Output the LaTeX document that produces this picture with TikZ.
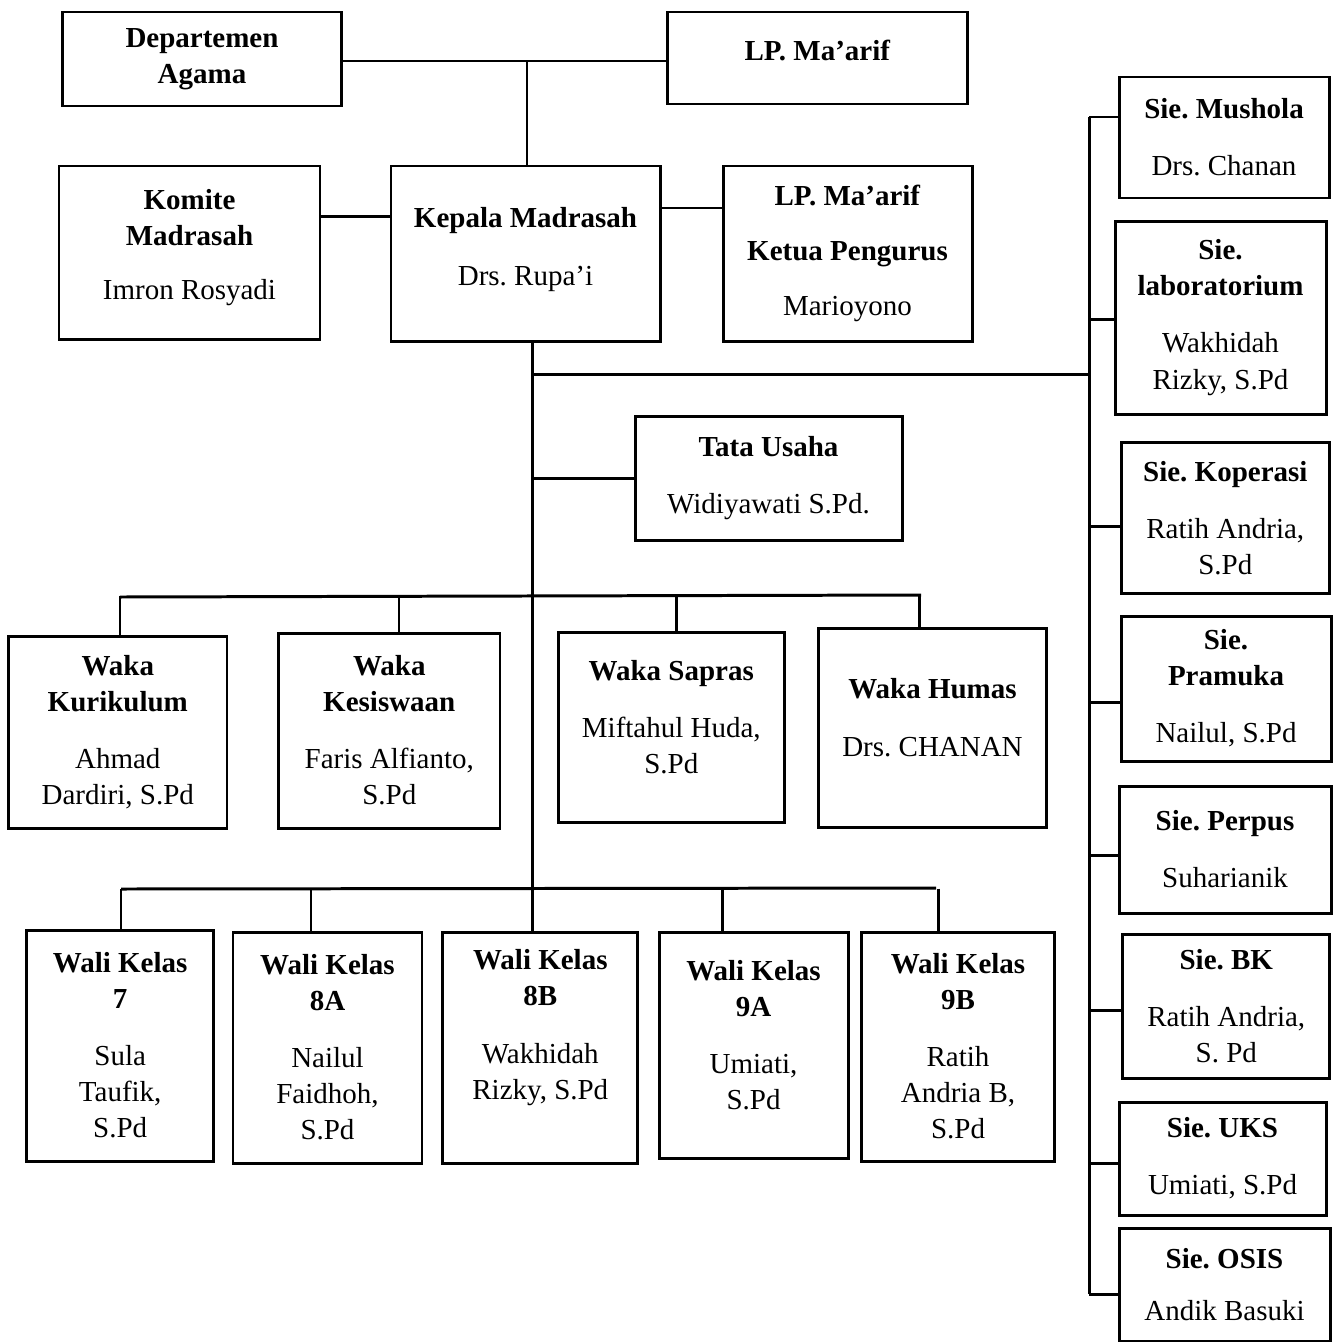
\documentclass[tikz,border=0pt]{standalone}
\usepackage{fontspec}
\setmainfont{Liberation Serif}
\usepackage{tikz}
\usetikzlibrary{calc}
\tikzset{
  box/.style={draw,line width=0.85pt,align=center,inner sep=0pt},
  boxsize/.style 2 args={minimum width=#1cm,minimum height=#2cm},
  every node/.style={font=\fontsize{8.25}{10.25}\selectfont},
}
\newcommand{\raiseby}[1]{\\[#1]\mbox{}}
\frenchspacing
\begin{document}
\begin{tikzpicture}[line width=0.85pt]
\useasboundingbox (0,0) rectangle (13.34,-13.42);
\node (dep) at (2.02,-0.59) [box,boxsize={2.79}{0.94}] {\textbf{Departemen}\\\textbf{Agama}};
\node (lp) at (8.174,-0.58) [box,boxsize={3.00}{0.92}] {\textbf{LP. Ma’arif}\raiseby{-5.7pt}};
\node (komite) at (1.895,-2.525) [box,boxsize={2.61}{1.73}] {\textbf{Komite}\\\textbf{Madrasah}\\[5pt]Imron Rosyadi\raiseby{-5.7pt}};
\node (kepala) at (5.255,-2.535) [box,boxsize={2.69}{1.75}] {\textbf{Kepala Madrasah}\\[6pt]Drs. Rupa’i\raiseby{-6.2pt}};
\node (lpk) at (8.475,-2.535) [box,boxsize={2.49}{1.75}] {\textbf{LP. Ma’arif}\\[5.5pt]\textbf{Ketua Pengurus}\\[5.5pt]Marioyono};
\node (tu) at (7.685,-4.78) [box,boxsize={2.67}{1.24}] {\textbf{Tata Usaha}\\[6pt]Widiyawati S.Pd.};

\node (kur) at (1.178,-7.32) [box,boxsize={2.184}{1.92}] {\textbf{Waka}\\\textbf{Kurikulum}\\[6pt]Ahmad\\Dardiri, S.Pd};
\node (kes) at (3.893,-7.305) [box,boxsize={2.214}{1.95}] {\textbf{Waka}\\\textbf{Kesiswaan}\\[6pt]Faris Alfianto,\\S.Pd};
\node (sap) at (6.713,-7.27) [box,boxsize={2.254}{1.90}] {\textbf{Waka Sapras}\\[6pt]Miftahul Huda,\\S.Pd\raiseby{-4.5pt}};
\node (hum) at (9.325,-7.275) [box,boxsize={2.278}{1.99}] {\textbf{Waka Humas}\\[6.5pt]Drs. CHANAN\raiseby{-4.5pt}};

\node (wk7) at (1.202,-10.455) [box,boxsize={1.868}{2.31}] {\textbf{Wali Kelas}\\\textbf{7}\\[6pt]Sula\\Taufik,\\S.Pd};
\node (wk8a) at (3.275,-10.475) [box,boxsize={1.89}{2.31}] {\textbf{Wali Kelas}\\\textbf{8A}\\[6pt]Nailul\\Faidhoh,\\S.Pd};
\node (wk8b) at (5.403,-10.475) [box,boxsize={1.947}{2.31}] {\textbf{Wali Kelas}\\\textbf{8B}\\[6pt]Wakhidah\\Rizky, S.Pd\raiseby{2.9pt}};
\node (wk9a) at (7.535,-10.45) [box,boxsize={1.89}{2.26}] {\textbf{Wali Kelas}\\\textbf{9A}\\[6pt]Umiati,\\S.Pd\raiseby{-4.5pt}};
\node (wk9b) at (9.58,-10.465) [box,boxsize={1.93}{2.29}] {\textbf{Wali Kelas}\\\textbf{9B}\\[6pt]Ratih\\Andria B,\\S.Pd};

\node (mus) at (12.24,-1.375) [box,boxsize={2.10}{1.21}] {\textbf{Sie. Mushola}\\[6pt]Drs. Chanan};
\node (lab) at (12.205,-3.175) [box,boxsize={2.11}{1.93}] {\textbf{Sie.}\\\textbf{laboratorium}\\[6pt]Wakhidah\\Rizky, S.Pd};
\node (kop) at (12.253,-5.178) [box,boxsize={2.085}{1.515}] {\textbf{Sie. Koperasi}\\[6pt]Ratih Andria,\\S.Pd};
\node (pra) at (12.26,-6.885) [box,boxsize={2.10}{1.45}] {\textbf{Sie.}\\\textbf{Pramuka}\\[6pt]Nailul, S.Pd};
\node (per) at (12.25,-8.495) [box,boxsize={2.12}{1.27}] {\textbf{Sie. Perpus}\\[6pt]Suharianik};
\node (bk) at (12.263,-10.06) [box,boxsize={2.073}{1.44}] {\textbf{Sie. BK}\\[6pt]Ratih Andria,\\S. Pd};
\node (uks) at (12.225,-11.585) [box,boxsize={2.07}{1.13}] {\textbf{Sie. UKS}\\[6pt]Umiati, S.Pd};
\node (osis) at (12.245,-12.845) [box,boxsize={2.11}{1.13}] {\textbf{Sie. OSIS}\\[4.5pt]Andik Basuki};

\coordinate (jtop) at (5.27,-0.61);
\coordinate (jkom) at (3.55,-2.165);
\coordinate (jlpk) at (6.9,-2.08);
\coordinate (trunk) at (5.32,-8.89);
\coordinate (jsie) at (10.89,-3.74);
\coordinate (wakaL) at (1.2,-5.97);
\coordinate (wakaR) at (9.21,-5.95);
\coordinate (waliL) at (1.21,-8.89);
\coordinate (waliR) at (9.36,-8.88);

\draw (dep.east |- jtop) -- (lp.west |- jtop);
\draw (jtop) -- (jtop |- kepala.north);
\draw (komite.east |- jkom) -- (kepala.west |- jkom);
\draw (kepala.east |- jlpk) -- (lpk.west |- jlpk);
\draw (trunk |- kepala.south) -- (trunk |- wk8b.north);
\draw (trunk |- jsie) -- (jsie);
\draw (trunk |- tu.west) -- (tu.west);

\draw (wakaL) -- (wakaR);
\foreach \n/\x in {kur/1.2,kes/3.99,sap/6.76,hum/9.19}{
  \coordinate (t\n) at (\x,-5.96);
  \draw (t\n) -- (t\n |- \n.north);
}
\draw (waliL) -- (waliR);
\foreach \n/\x in {wk7/1.21,wk8a/3.11,wk9a/7.22,wk9b/9.38}{
  \coordinate (t\n) at (\x,-8.885);
  \draw (t\n) -- (t\n |- \n.north);
}

\foreach \n/\d in {mus/2.05,lab/-0.15,kop/-0.82,pra/-1.35,per/-0.55,bk/-0.4,uks/-0.45,osis/-0.95}{
  \path ([yshift=\d mm]\n.west) coordinate (s\n);
  \draw (s\n) -- (s\n -| jsie);
}
\draw (smus -| jsie) -- (sosis -| jsie);
\end{tikzpicture}
\end{document}
